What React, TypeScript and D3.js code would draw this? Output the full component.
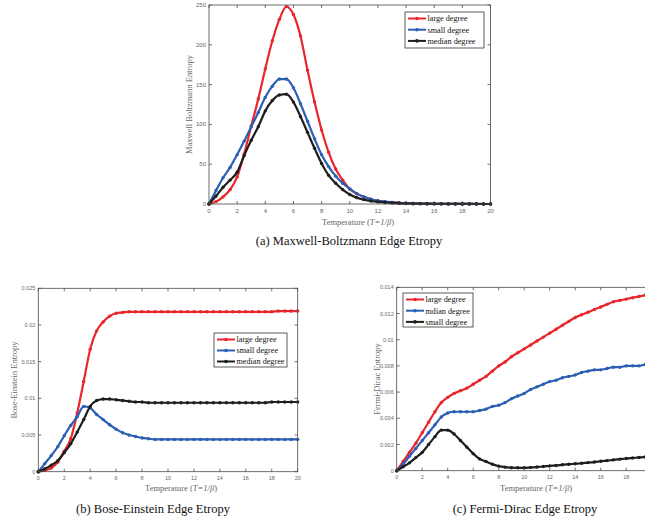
import React from "react";
import * as d3 from "d3";

// Temperature samples (T = 1/beta)
const T = [0, 0.5, 1, 1.5, 2, 2.5, 3, 3.5, 4, 4.5, 5, 5.5, 6, 6.5, 7, 7.5, 8, 8.5, 9, 9.5, 10, 10.5, 11, 11.5, 12, 12.5, 13, 13.5, 14, 14.5, 15, 15.5, 16, 16.5, 17, 17.5, 18, 18.5, 19, 19.5, 20];

// (a) Maxwell-Boltzmann
const mbLarge = [0, 3, 9, 18, 34, 63, 98, 132, 170, 205, 232, 248, 238, 211, 168, 128, 93, 65, 44, 30, 19, 13, 9, 6, 4, 2.8, 2, 1.4, 1, 0.7, 0.5, 0.4, 0.3, 0.2, 0.15, 0.1, 0.1, 0.05, 0.05, 0.03, 0.02];
const mbSmall = [0, 17, 33, 46, 62, 79, 97, 115, 134, 148, 157, 157, 146, 126, 104, 82, 62, 47, 35, 26, 19, 13, 9, 6, 4, 3, 2, 1.4, 1, 0.7, 0.5, 0.35, 0.25, 0.2, 0.15, 0.1, 0.08, 0.05, 0.04, 0.03, 0.02];
const mbMedian = [0, 10, 21, 30, 40, 61, 80, 97, 117, 130, 137, 138, 128, 110, 90, 70, 51, 36, 26, 18, 12, 8, 5.5, 3.8, 2.7, 1.9, 1.3, 0.9, 0.6, 0.4, 0.3, 0.22, 0.16, 0.12, 0.09, 0.07, 0.05, 0.04, 0.03, 0.02, 0.02];

// (b) Bose-Einstein
const beLarge = [0, 0.0002, 0.0005, 0.0013, 0.0028, 0.0045, 0.0080, 0.0123, 0.0167, 0.0192, 0.0204, 0.0212, 0.0216, 0.0217, 0.0218, 0.0218, 0.0218, 0.0218, 0.0218, 0.0218, 0.0218, 0.0218, 0.0218, 0.0218, 0.0218, 0.0218, 0.0218, 0.0218, 0.0218, 0.0218, 0.0218, 0.0218, 0.0218, 0.0218, 0.0218, 0.0218, 0.0218, 0.0219, 0.0219, 0.0219, 0.0219];
const beSmall = [0, 0.0011, 0.0022, 0.0034, 0.0049, 0.0063, 0.0075, 0.0089, 0.0087, 0.0078, 0.0071, 0.0064, 0.0058, 0.0053, 0.0050, 0.0048, 0.0046, 0.0045, 0.0044, 0.0044, 0.0044, 0.0044, 0.0044, 0.0044, 0.0044, 0.0044, 0.0044, 0.0044, 0.0044, 0.0044, 0.0044, 0.0044, 0.0044, 0.0044, 0.0044, 0.0044, 0.0044, 0.0044, 0.0044, 0.0044, 0.0044];
const beMedian = [0, 0.0004, 0.0009, 0.0015, 0.0026, 0.0038, 0.0054, 0.0071, 0.0089, 0.0097, 0.0099, 0.0099, 0.0098, 0.0097, 0.0096, 0.0095, 0.0095, 0.0094, 0.0094, 0.0094, 0.0094, 0.0094, 0.0094, 0.0094, 0.0094, 0.0094, 0.0094, 0.0094, 0.0094, 0.0094, 0.0094, 0.0094, 0.0094, 0.0094, 0.0094, 0.0094, 0.0095, 0.0095, 0.0095, 0.0095, 0.0095];

// (c) Fermi-Dirac
const fdLarge = [0, 0.0007, 0.0014, 0.0021, 0.0029, 0.0037, 0.0045, 0.0052, 0.0056, 0.0059, 0.0061, 0.0063, 0.0066, 0.0069, 0.0072, 0.0076, 0.0080, 0.0083, 0.0087, 0.0090, 0.0093, 0.0096, 0.0099, 0.0102, 0.0105, 0.0108, 0.0111, 0.0114, 0.0117, 0.0119, 0.0121, 0.0123, 0.0125, 0.0127, 0.0129, 0.0130, 0.0131, 0.0132, 0.0133, 0.0134, 0.0135];
const fdMdian = [0, 0.0005, 0.0011, 0.0017, 0.0023, 0.0029, 0.0035, 0.0041, 0.0044, 0.0045, 0.0045, 0.0045, 0.0045, 0.0046, 0.0047, 0.0049, 0.0050, 0.0052, 0.0055, 0.0057, 0.0059, 0.0062, 0.0064, 0.0066, 0.0068, 0.0069, 0.0071, 0.0072, 0.0073, 0.0075, 0.0076, 0.0077, 0.0077, 0.0078, 0.0079, 0.0079, 0.0080, 0.0080, 0.0080, 0.0081, 0.0081];
const fdSmall = [0, 0.0003, 0.0006, 0.0010, 0.0014, 0.0020, 0.0026, 0.0031, 0.0031, 0.0028, 0.0023, 0.0018, 0.0013, 0.0009, 0.0007, 0.0005, 0.00035, 0.00027, 0.00023, 0.00022, 0.00022, 0.00025, 0.00028, 0.00032, 0.00037, 0.0004, 0.00045, 0.00049, 0.00053, 0.00057, 0.00062, 0.00066, 0.00072, 0.00077, 0.00083, 0.00088, 0.00093, 0.00097, 0.00101, 0.00105, 0.00108];

const xTicks = [0, 2, 4, 6, 8, 10, 12, 14, 16, 18, 20];
const mbYTicks = [0, 50, 100, 150, 200, 250];
const mbYLabels = ["0", "50", "100", "150", "200", "250"];
const beYTicks = [0, 0.005, 0.01, 0.015, 0.02, 0.025];
const beYLabels = ["0", "0.005", "0.01", "0.015", "0.02", "0.025"];
const fdYTicks = [0, 0.002, 0.004, 0.006, 0.008, 0.01, 0.012, 0.014];
const fdYLabels = ["0", "0.002", "0.004", "0.006", "0.008", "0.01", "0.012", "0.014"];

const RED = "#e8262b";
const BLUE = "#2b5fb3";
const BLACK = "#1e1e1e";

const SERIF = "'Liberation Serif', 'Times New Roman', serif";
const SANS = "'Liberation Sans', Arial, sans-serif";
const W = 645;
const H = 521;

type Series = { name: string; color: string; values: number[] };

type PanelProps = {
  left: number; right: number; top: number; bottom: number;
  yMax: number; yTicks: number[]; yLabels: string[];
  series: Series[];
  legend: { x: number; y: number; w: number; h: number; rowH: number };
  yLabel: string; yLabelX: number;
  xLabelX: number; xLabelY: number;
  caption: string; captionX: number; captionY: number;
  tickFont: number;
};

function Panel(p: PanelProps) {
  const x = d3.scaleLinear().domain([0, 20]).range([p.left, p.right]);
  const y = d3.scaleLinear().domain([0, p.yMax]).range([p.bottom, p.top]);
  const line = d3.line<number>().x((_, i) => x(T[i])).y((v) => y(v)).curve(d3.curveMonotoneX);
  const frame = "#4a4a4a";
  const tl = 3;
  const midY = (p.top + p.bottom) / 2;
  return (
    <g>
      {p.series.map((s) => (
        <g key={s.name}>
          <path d={line(s.values) || ""} fill="none" stroke={s.color} strokeWidth={2.2} />
          {s.values.map((v, i) => (
            <circle key={i} cx={x(T[i])} cy={y(v)} r={1.7} fill={s.color} />
          ))}
        </g>
      ))}
      <rect x={p.left} y={p.top} width={p.right - p.left} height={p.bottom - p.top} fill="none" stroke={frame} strokeWidth={0.8} />
      {xTicks.map((t) => (
        <g key={"x" + t}>
          <line x1={x(t)} x2={x(t)} y1={p.bottom} y2={p.bottom - tl} stroke={frame} strokeWidth={0.8} />
          <line x1={x(t)} x2={x(t)} y1={p.top} y2={p.top + tl} stroke={frame} strokeWidth={0.8} />
          {x(t) < W - 6 && (
            <text x={x(t)} y={p.bottom + 8.5} textAnchor="middle" fontFamily={SANS} fontSize={p.tickFont} fill="#666">{t}</text>
          )}
        </g>
      ))}
      {p.yTicks.map((t, i) => (
        <g key={"y" + t}>
          <line x1={p.left} x2={p.left + tl} y1={y(t)} y2={y(t)} stroke={frame} strokeWidth={0.8} />
          <line x1={p.right} x2={p.right - tl} y1={y(t)} y2={y(t)} stroke={frame} strokeWidth={0.8} />
          <text x={p.left - 3} y={y(t) + 2} textAnchor="end" fontFamily={SANS} fontSize={p.tickFont} fill="#666">{p.yLabels[i]}</text>
        </g>
      ))}
      <text transform={`translate(${p.yLabelX},${midY}) rotate(-90)`} textAnchor="middle" fontFamily={SERIF} fontSize={8.5} fill="#666">{p.yLabel}</text>
      <text x={p.xLabelX} y={p.xLabelY} textAnchor="middle" fontFamily={SERIF} fontSize={8.5} fill="#666">
        Temperature (<tspan fontStyle="italic">T=1/β</tspan>)
      </text>
      <g>
        <rect x={p.legend.x} y={p.legend.y} width={p.legend.w} height={p.legend.h} fill="#fff" stroke="#333" strokeWidth={0.8} />
        {p.series.map((s, i) => {
          const cy = p.legend.y + 6.5 + i * p.legend.rowH;
          const lx0 = p.legend.x + 3;
          const lx1 = p.legend.x + 21;
          return (
            <g key={"lg" + s.name}>
              <line x1={lx0} x2={lx1} y1={cy} y2={cy} stroke={s.color} strokeWidth={2} />
              <circle cx={(lx0 + lx1) / 2} cy={cy} r={1.8} fill={s.color} />
              <text x={lx1 + 1.5} y={cy + 2.8} fontFamily={SERIF} fontSize={8.2} fill="#111">{s.name}</text>
            </g>
          );
        })}
      </g>
      <text x={p.captionX} y={p.captionY} textAnchor="middle" fontFamily={SERIF} fontSize={12.5} fill="#111">{p.caption}</text>
    </g>
  );
}

export default function App() {
  return (
    <svg width={W} height={H} style={{ position: "absolute", left: 0, top: 0, background: "#fff" }}>
      <rect x={0} y={0} width={W} height={H} fill="#fff" />
      <Panel
        left={209} right={490.5} top={5} bottom={204}
        yMax={250} yTicks={mbYTicks} yLabels={mbYLabels}
        series={[
          { name: "large degree", color: RED, values: mbLarge },
          { name: "small degree", color: BLUE, values: mbSmall },
          { name: "median degree", color: BLACK, values: mbMedian },
        ]}
        legend={{ x: 405, y: 12, w: 79, h: 36, rowH: 11.2 }}
        yLabel="Maxwell Boltzmann Entropy" yLabelX={192}
        xLabelX={358} xLabelY={225}
        caption="(a) Maxwell-Boltzmann Edge Etropy" captionX={349} captionY={245}
        tickFont={6}
      />
      <Panel
        left={38.3} right={297.7} top={288.3} bottom={471.7}
        yMax={0.025} yTicks={beYTicks} yLabels={beYLabels}
        series={[
          { name: "large degree", color: RED, values: beLarge },
          { name: "small degree", color: BLUE, values: beSmall },
          { name: "median degree", color: BLACK, values: beMedian },
        ]}
        legend={{ x: 214, y: 333, w: 73, h: 34, rowH: 11 }}
        yLabel="Bose-Einstein Entropy" yLabelX={17}
        xLabelX={181} xLabelY={491}
        caption="(b) Bose-Einstein Edge Etropy" captionX={153} captionY={513}
        tickFont={5.5}
      />
      <Panel
        left={396.7} right={651.7} top={287.3} bottom={470.7}
        yMax={0.014} yTicks={fdYTicks} yLabels={fdYLabels}
        series={[
          { name: "large degree", color: RED, values: fdLarge },
          { name: "mdian degree", color: BLUE, values: fdMdian },
          { name: "small degree", color: BLACK, values: fdSmall },
        ]}
        legend={{ x: 403, y: 293, w: 70, h: 34, rowH: 11.2 }}
        yLabel="Fermi-Dirac Entropy" yLabelX={380}
        xLabelX={536} xLabelY={491}
        caption="(c) Fermi-Dirac Edge Etropy" captionX={525} captionY={513}
        tickFont={5.5}
      />
    </svg>
  );
}
